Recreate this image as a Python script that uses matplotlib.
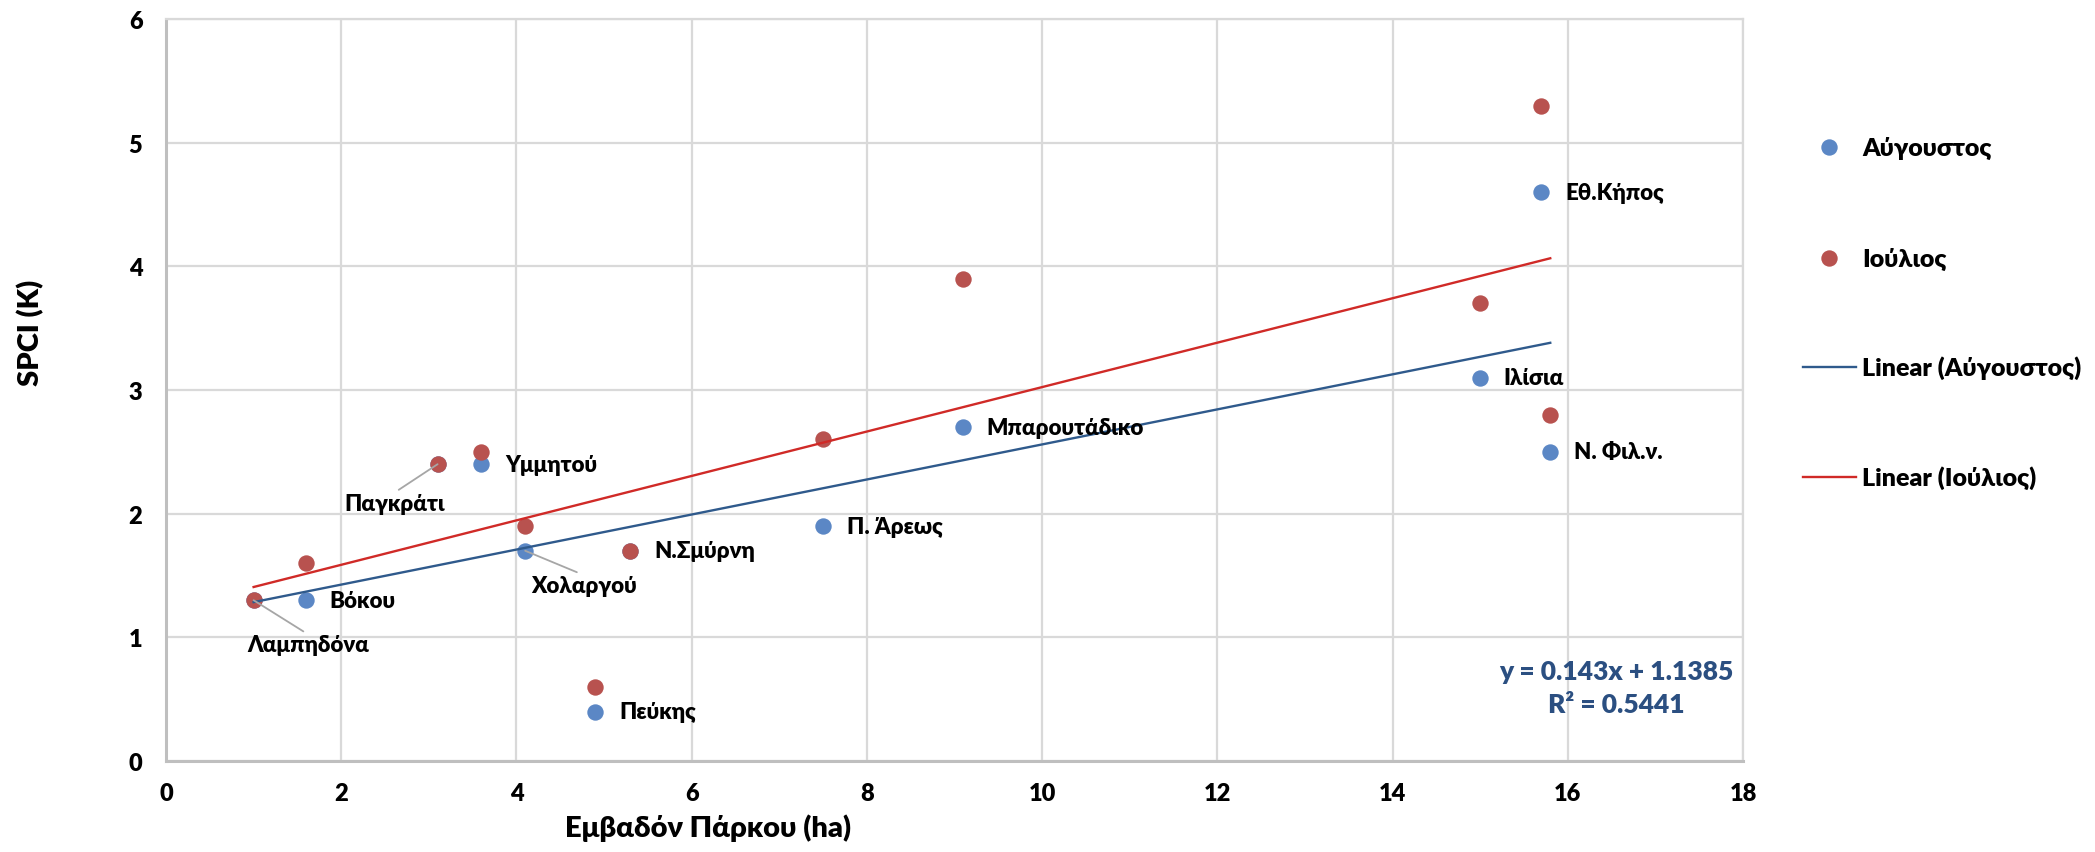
import numpy as np
import matplotlib
matplotlib.use('Agg')
import matplotlib.pyplot as plt
from matplotlib.lines import Line2D

# ---------------- data ----------------
parks = ['Λαμπηδόνα', 'Βόκου', 'Παγκράτι', 'Υμμητού', 'Χολαργού', 'Πεύκης',
         'Ν.Σμύρνη', 'Π. Άρεως', 'Μπαρουτάδικο', 'Ιλίσια', 'Εθ.Κήπος', 'Ν. Φιλ.ν.']
area_ha = [1.0, 1.6, 3.1, 3.6, 4.1, 4.9, 5.3, 7.5, 9.1, 15.0, 15.7, 15.8]
spci_aug = [1.3, 1.3, 2.4, 2.4, 1.7, 0.4, 1.7, 1.9, 2.7, 3.1, 4.6, 2.5]
spci_jul = [1.3, 1.6, 2.4, 2.5, 1.9, 0.6, 1.7, 2.6, 3.9, 3.7, 5.3, 2.8]
series_names = ['Αύγουστος', 'Ιούλιος']
trend_names = ['Linear (Αύγουστος)', 'Linear (Ιούλιος)']
eq_text = 'y = 0.143x + 1.1385'
r2_text = 'R² = 0.5441'
x_ticks = [0, 2, 4, 6, 8, 10, 12, 14, 16, 18]
y_ticks = [0, 1, 2, 3, 4, 5, 6]
x_label = 'Εμβαδόν Πάρκου (ha)'
y_label = 'SPCI (K)'

# ---------------- style / layout ----------------
FONT = ['Lato', 'Open Sans', 'DejaVu Sans']
WEIGHT = 'heavy'
plt.rcParams['font.family'] = FONT
plt.rcParams['font.weight'] = WEIGHT

C_AUG = '#5B87C5'
C_JUL = '#B8524F'
C_AUG_LINE = '#2F5A8C'
C_JUL_LINE = '#D02A27'
C_EQ = '#2B4F81'
C_GRID = '#D9D9D9'

# label offsets in points (dx, dy), leader flag
label_layout = {
    'Λαμπηδόνα': (39, -32, True),
    'Παγκράτι': (-31, -28, True),
    'Χολαργού': (42, -25, True),
}
default_offset = (17, 0, False)

W, H = 2095, 853
fig = plt.figure(figsize=(W / 100, H / 100), dpi=100)
L, R, T, B = 166, 1743, 20, 762
ax = fig.add_axes([L / W, 1 - B / H, (R - L) / W, (B - T) / H])

ax.set_xlim(0, 18)
ax.set_ylim(0, 6)
ax.set_xticks(x_ticks)
ax.set_yticks(y_ticks)
ax.grid(True, color=C_GRID, lw=1.6, zorder=0)
ax.set_axisbelow(True)
for s in ['top', 'right']:
    ax.spines[s].set_color(C_GRID)
    ax.spines[s].set_linewidth(1.6)
for s in ['left', 'bottom']:
    ax.spines[s].set_color('#BFBFBF')
    ax.spines[s].set_linewidth(2.2)
ax.tick_params(length=0, labelsize=17)
ax.tick_params(axis='y', pad=17)
ax.tick_params(axis='x', pad=15)
for lab in ax.get_xticklabels() + ax.get_yticklabels():
    lab.set_fontweight(WEIGHT)

# points
ax.plot(area_ha, spci_aug, 'o', ms=11.8, color=C_AUG, mec='none', zorder=3)
ax.plot(area_ha, spci_jul, 'o', ms=11.8, color=C_JUL, mec='none', zorder=3)

# trend lines
xa = np.array(area_ha)
xs = np.array([xa.min(), xa.max()])
for ys, col in [(spci_aug, C_AUG_LINE), (spci_jul, C_JUL_LINE)]:
    k, b = np.polyfit(xa, np.array(ys), 1)
    ax.plot(xs, k * xs + b, '-', color=col, lw=1.7, zorder=4)

# data labels
for name, x, y in zip(parks, area_ha, spci_aug):
    dx, dy, leader = label_layout.get(name, default_offset)
    if leader:
        ax.annotate(name, xy=(x, y), xytext=(dx, dy), textcoords='offset points',
                    ha='center', va='center', fontsize=16, fontweight=WEIGHT,
                    zorder=6,
                    arrowprops=dict(arrowstyle='-', color='#A6A6A6', lw=1.3,
                                    shrinkA=0, shrinkB=0, relpos=(0.5, 1.0)))
    else:
        ax.annotate(name, xy=(x, y), xytext=(dx, dy), textcoords='offset points',
                    ha='left', va='center', fontsize=16, fontweight=WEIGHT, zorder=6)

# equation
ax.text((1616 - L) / (R - L), (B - 672) / (B - T), eq_text, transform=ax.transAxes,
        ha='center', va='center', fontsize=19, fontweight=WEIGHT, color=C_EQ)
ax.text((1616 - L) / (R - L), (B - 705) / (B - T), r2_text, transform=ax.transAxes,
        ha='center', va='center', fontsize=19, fontweight=WEIGHT, color=C_EQ)

# axis labels
ax.set_xlabel(x_label, fontsize=21, fontweight=WEIGHT)
ax.xaxis.set_label_coords((708 - L) / (R - L), (B - 828) / (B - T))
ax.xaxis.label.set_va('center')
ax.set_ylabel(y_label, fontsize=21, fontweight=WEIGHT)
ax.yaxis.set_label_coords((31 - L) / (R - L), (B - 333) / (B - T))
ax.yaxis.label.set_va('center')

# legend (manual, figure coordinates)
rows = [148, 259, 368, 478]
entries = [('marker', C_AUG, series_names[0]), ('marker', C_JUL, series_names[1]),
           ('line', C_AUG_LINE, trend_names[0]), ('line', C_JUL_LINE, trend_names[1])]
for ry, (kind, col, txt) in zip(rows, entries):
    fy = 1 - ry / H
    if kind == 'marker':
        fig.add_artist(Line2D([1829 / W], [fy], marker='o', ms=11.8, color=col,
                              mec='none', transform=fig.transFigure))
    else:
        fig.add_artist(Line2D([1803 / W, 1856 / W], [fy, fy], color=col, lw=1.7,
                              transform=fig.transFigure))
    fig.text(1862 / W, fy, txt, ha='left', va='center', fontsize=18, fontweight=WEIGHT)

fig.savefig('out.png', dpi=100, facecolor='white')
